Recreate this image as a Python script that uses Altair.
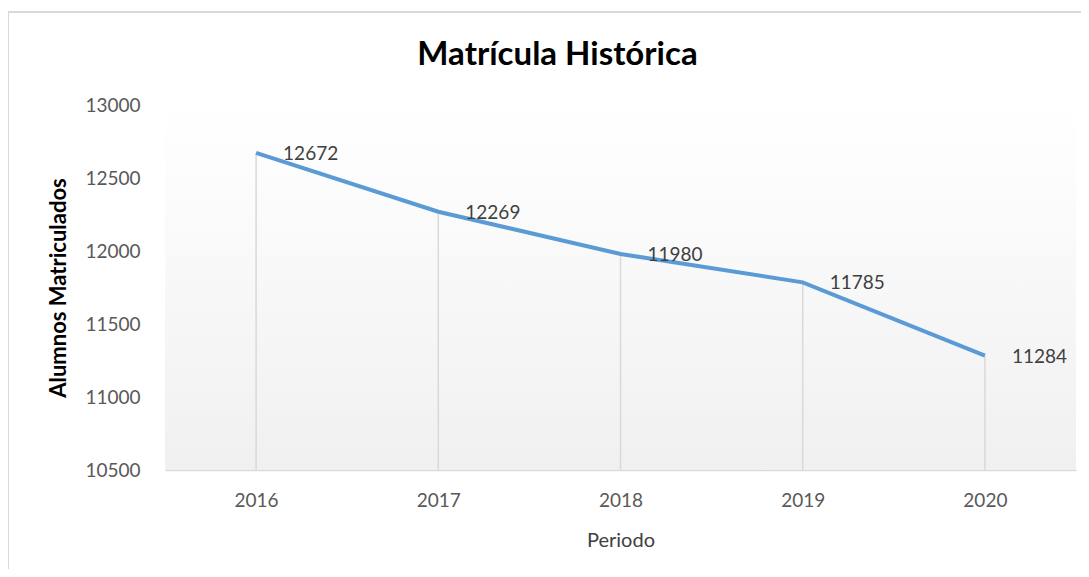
import altair as alt
import pandas as pd

years = ["2016", "2017", "2018", "2019", "2020"]
values = [12672, 12269, 11980, 11785, 11284]
y_ticks = [10500, 11000, 11500, 12000, 12500, 13000]

df = pd.DataFrame({"Periodo": years, "Alumnos": values})

W, H = 911, 365
FONT = "Lato"

x_enc = alt.X("Periodo:O", sort=years,
              scale=alt.Scale(type="point", padding=0.5),
              axis=alt.Axis(title="Periodo", labelAngle=0, ticks=False,
                            domainColor="#d9d9d9", domainWidth=1.5,
                            labelColor="#595959", labelFontSize=19, labelFont=FONT,
                            labelPadding=21, titleFontSize=20, titleFont=FONT,
                            titleFontWeight="normal", titleColor="#404040",
                            titlePadding=20))
y_scale = alt.Scale(domain=[10500, 13000], nice=False, zero=False)
y_enc = alt.Y("Alumnos:Q", scale=y_scale,
              axis=alt.Axis(title="Alumnos Matriculados", values=y_ticks, format="d",
                            domain=False, ticks=False, grid=False,
                            labelColor="#595959", labelFontSize=19, labelFont=FONT,
                            labelPadding=25, titleFontSize=22, titleFont=FONT,
                            titleFontWeight="bold", titleColor="#000000",
                            titlePadding=14))

base = alt.Chart(df)

bg = base.mark_rect(
    fill=alt.Gradient(gradient="linear", x1=0, y1=0, x2=0, y2=1,
                      stops=[alt.GradientStop(color="#ffffff", offset=0),
                             alt.GradientStop(color="#fafafa", offset=0.35),
                             alt.GradientStop(color="#f0f0f0", offset=1)])
).encode(x=alt.value(0), x2=alt.value(W), y=alt.value(0), y2=alt.value(H))

border_left = base.mark_rule(color="#d9d9d9", strokeWidth=1.5).encode(
    x=alt.value(-157), y=alt.value(-93), y2=alt.value(H + 99))
border_top = base.mark_rule(color="#d9d9d9", strokeWidth=1.5).encode(
    x=alt.value(-157), x2=alt.value(W + 5), y=alt.value(-93))

drops = base.mark_rule(color="#d9d9d9", strokeWidth=1.5).encode(
    x=x_enc, y=y_enc, y2=alt.datum(10500))

line = base.mark_line(color="#5b9bd5", strokeWidth=4).encode(x=x_enc, y=y_enc)

labels = base.mark_text(align="left", baseline="middle", dx=27, dy=1,
                        fontSize=19, font=FONT, color="#404040").encode(
    x=x_enc, y=y_enc, text="Alumnos:Q")

chart = alt.layer(bg, border_left, border_top, drops, line, labels).properties(
    width=W, height=H,
    title=alt.TitleParams("Matrícula Histórica", fontSize=33, font=FONT,
                          fontWeight="bold", color="#000000", dx=-63,
                          anchor="middle", baseline="alphabetic", offset=-87),
    autosize=alt.AutoSizeParams(type="none"),
    padding={"left": 157, "top": 97, "right": 5, "bottom": 99},
).configure_view(stroke=None)

chart.save("out.html", embed_options={"renderer": "svg", "actions": False})
